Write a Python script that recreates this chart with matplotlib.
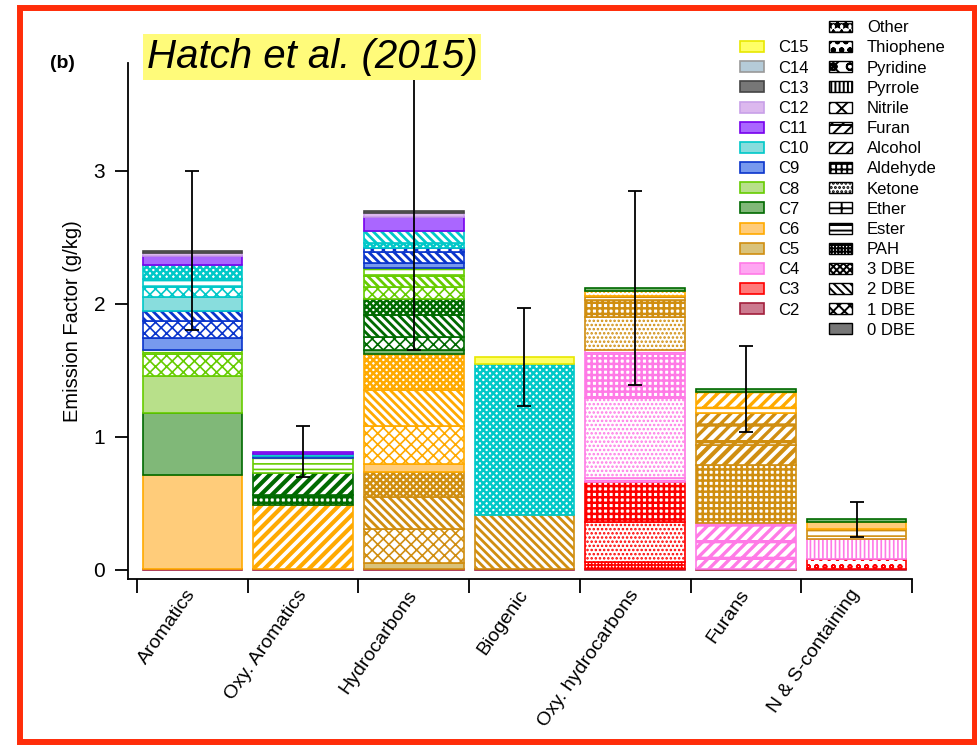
import matplotlib.pyplot as plt
from matplotlib.patches import Patch, Rectangle
import numpy as np

plt.rcParams['font.family'] = ['Liberation Sans', 'DejaVu Sans']
plt.rcParams['hatch.linewidth'] = 1.4

categories = ['Aromatics', 'Oxy. Aromatics', 'Hydrocarbons', 'Biogenic',
              'Oxy. hydrocarbons', 'Furans', 'N & S-containing']
carbons = ['C15', 'C14', 'C13', 'C12', 'C11', 'C10', 'C9', 'C8',
           'C7', 'C6', 'C5', 'C4', 'C3', 'C2']
groups = ['Other', 'Thiophene', 'Pyridine', 'Pyrrole', 'Nitrile', 'Furan',
          'Alcohol', 'Aldehyde', 'Ketone', 'Ether', 'Ester', 'PAH',
          '3 DBE', '2 DBE', '1 DBE', '0 DBE']

# stacked segments per class, bottom to top (g/kg)
aro_c = ['C2', 'C6', 'C7', 'C8', 'C8', 'C8', 'C9', 'C9', 'C9',
         'C10', 'C10', 'C10', 'C10', 'C11', 'C12', 'C13']
aro_g = ['0 DBE', '0 DBE', '0 DBE', '0 DBE', '1 DBE', 'Ester', '0 DBE', '1 DBE', '2 DBE',
         '0 DBE', '1 DBE', 'Ester', '3 DBE', '0 DBE', '0 DBE', '0 DBE']
aro_v = [0.01, 0.70, 0.47, 0.28, 0.16, 0.03, 0.09, 0.13, 0.08,
         0.10, 0.08, 0.06, 0.10, 0.07, 0.02, 0.02]

oxa_c = ['C2', 'C6', 'C7', 'C7', 'C8', 'C9', 'C10', 'C11']
oxa_g = ['0 DBE', 'Alcohol', 'Aldehyde', 'Alcohol', 'Ester', 'Ester', '0 DBE', '0 DBE']
oxa_v = [0.01, 0.48, 0.07, 0.17, 0.11, 0.02, 0.015, 0.015]

hc_c = ['C2', 'C5', 'C5', 'C5', 'C5', 'C6', 'C6', 'C6', 'C6',
        'C7', 'C7', 'C7', 'C7', 'C8', 'C8', 'C8', 'C9', 'C9', 'C9',
        'C10', 'C10', 'C11', 'C12', 'C13']
hc_g = ['0 DBE', '0 DBE', '1 DBE', '2 DBE', '3 DBE', '0 DBE', '1 DBE', '2 DBE', '3 DBE',
        '0 DBE', '1 DBE', '2 DBE', '3 DBE', '1 DBE', '2 DBE', 'Ester', '0 DBE', '2 DBE', '1 DBE',
        '3 DBE', '2 DBE', '0 DBE', '0 DBE', '0 DBE']
hc_v = [0.01, 0.04, 0.26, 0.24, 0.19, 0.06, 0.28, 0.27, 0.27,
        0.03, 0.10, 0.17, 0.12, 0.09, 0.08, 0.06, 0.04, 0.08, 0.03,
        0.04, 0.09, 0.10, 0.03, 0.02]

bio_c = ['C2', 'C5', 'C10', 'C15']
bio_g = ['0 DBE', '2 DBE', '3 DBE', '0 DBE']
bio_v = [0.01, 0.40, 1.14, 0.05]

oxh_c = ['C2', 'C3', 'C3', 'C3', 'C4', 'C4', 'C4', 'C4',
         'C5', 'C5', 'C5', 'C6', 'C7']
oxh_g = ['0 DBE', 'PAH', 'Ketone', 'Aldehyde', 'Ester', 'Ketone', 'Aldehyde', 'Ester',
         'Ketone', 'Aldehyde', 'Ester', 'Ketone', '0 DBE']
oxh_v = [0.01, 0.05, 0.30, 0.30, 0.03, 0.60, 0.33, 0.03,
         0.25, 0.13, 0.03, 0.04, 0.02]

fur_c = ['C2', 'C4', 'C5', 'C5', 'C5', 'C6', 'C6', 'C7']
fur_g = ['0 DBE', 'Furan', 'Aldehyde', 'Alcohol', 'Furan', 'Ester', 'Furan', '0 DBE']
fur_v = [0.01, 0.34, 0.44, 0.15, 0.24, 0.04, 0.12, 0.02]

ns_c = ['C2', 'C3', 'C4', 'C5', 'C6', 'C7']
ns_g = ['0 DBE', 'Thiophene', 'Pyrrole', 'Ester', '0 DBE', '0 DBE']
ns_v = [0.01, 0.07, 0.15, 0.08, 0.05, 0.02]

ef_err = [0.60, 0.19, 1.05, 0.37, 0.73, 0.32, 0.13]

stacks = [(aro_c, aro_g, aro_v), (oxa_c, oxa_g, oxa_v), (hc_c, hc_g, hc_v),
          (bio_c, bio_g, bio_v), (oxh_c, oxh_g, oxh_v), (fur_c, fur_g, fur_v),
          (ns_c, ns_g, ns_v)]

edge = {'C2': '#a31f3c', 'C3': '#ff0000', 'C4': '#ff7ae6', 'C5': '#d08e10',
        'C6': '#ffaa00', 'C7': '#006a00', 'C8': '#66cc00', 'C9': '#0a35cc',
        'C10': '#00c8c8', 'C11': '#7700ee', 'C12': '#c8a0e8', 'C13': '#444444',
        'C14': '#999999', 'C15': '#e8e800'}
fill = {'C2': '#cc7a8f', 'C3': '#ff7a7a', 'C4': '#ffa6f2', 'C5': '#d9c27a',
        'C6': '#ffcc7a', 'C7': '#80b878', 'C8': '#b8e08a', 'C9': '#7799ee',
        'C10': '#88dddd', 'C11': '#aa66ff', 'C12': '#dcb8ee', 'C13': '#777777',
        'C14': '#b5cbd8', 'C15': '#ffff66'}
hatch = {'Other': '**', 'Thiophene': 'oo', 'Pyridine': 'xo', 'Pyrrole': '||||',
         'Nitrile': 'xx', 'Furan': '///-', 'Alcohol': '///', 'Aldehyde': '+++',
         'Ketone': '....', 'Ether': '+.', 'Ester': '---', 'PAH': '+++++',
         '3 DBE': 'xxxxx', '2 DBE': '\\\\\\\\', '1 DBE': 'xxx', '0 DBE': None}
hatch_lw = {'Furan': 2.4, 'Alcohol': 3.0, 'Aldehyde': 1.8, '3 DBE': 1.8, '2 DBE': 2.0}

fig = plt.figure(figsize=(9.78, 7.45), dpi=100)
ax = fig.add_axes([0.131, 0.2228, 0.8015, 0.6926])

totals = []
for i, (cs, gs, vs) in enumerate(stacks):
    bottom = 0.0
    for c, g, v in zip(cs, gs, vs):
        if g == '0 DBE':
            ax.bar(i, v, 0.9, bottom=bottom, color=fill[c], edgecolor=edge[c], linewidth=1.2)
        else:
            ax.bar(i, v, 0.9, bottom=bottom, color='white', edgecolor=edge[c],
                   hatch=hatch[g], hatch_linewidth=hatch_lw.get(g, 1.2), linewidth=1.2)
        bottom += v
    totals.append(bottom)

ax.errorbar(range(len(categories)), totals, yerr=ef_err, fmt='none', ecolor='black',
            elinewidth=1.3, capsize=5, capthick=1.3, zorder=5)

ax.set_xlim(-0.58, 6.5)
ax.set_ylim(-0.068, 3.81)
for s in ['top', 'right']:
    ax.spines[s].set_visible(False)
for s in ['left', 'bottom']:
    ax.spines[s].set_linewidth(1.3)

ax.set_xticks(np.arange(-0.5, 7, 1))
ax.set_xticklabels([])
ax.set_xticks(range(len(categories)), minor=True)
ax.set_xticklabels(categories, minor=True, rotation=55, ha='right', va='center',
                   rotation_mode='anchor', fontsize=14)
ax.tick_params(axis='x', which='major', length=10, width=1.3)
ax.tick_params(axis='x', which='minor', length=0, pad=9)
ax.set_yticks([0, 1, 2, 3])
ax.tick_params(axis='y', length=9.5, width=1.3, pad=7, labelsize=15)
ax.set_ylabel('Emission Factor (g/kg)', fontsize=14.5, labelpad=8)

handles = [Patch(facecolor='none', edgecolor='none', label='')]
handles += [Patch(facecolor=fill[c], edgecolor=edge[c], linewidth=1.2, label=c) for c in carbons]
handles += [Patch(facecolor='none', edgecolor='none', label='')]
for g in groups:
    if g == '0 DBE':
        handles.append(Patch(facecolor='#777777', edgecolor='black', label=g))
    else:
        handles.append(Patch(facecolor='white', edgecolor='black', hatch=hatch[g], label=g))
fig.legend(handles=handles, ncol=2, loc='upper left', bbox_to_anchor=(0.7484, 0.984),
           frameon=False, fontsize=12, borderpad=0, labelspacing=0.31,
           handlelength=1.4, handleheight=0.65, handletextpad=0.9, columnspacing=1.16)

fig.text(0.150, 0.9235, 'Hatch et al. (2015)', fontsize=29, style='italic',
         ha='left', va='center', bbox=dict(facecolor='#fffb7a', edgecolor='none', pad=3))
fig.text(0.064, 0.915, '(b)', fontsize=14, fontweight='bold', ha='center', va='center')

fig.add_artist(Rectangle((0.0204, 0.004), 0.9765, 0.985, transform=fig.transFigure,
                         facecolor='none', edgecolor='#ff2d0a', linewidth=4.3))

fig.savefig('out.png', dpi=100)
